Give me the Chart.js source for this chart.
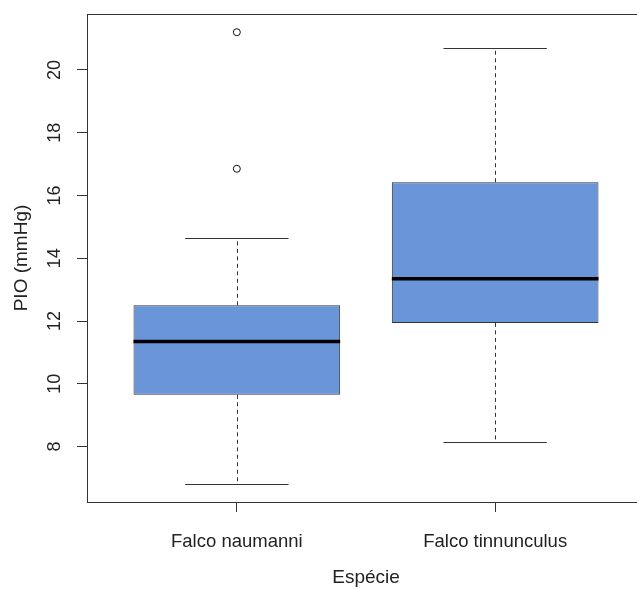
<!DOCTYPE html>
<html lang="pt">
<head>
<meta charset="utf-8">
<title>PIO por espécie</title>
<script src="https://cdn.jsdelivr.net/npm/chart.js@4/dist/chart.umd.min.js"></script>
<style>
  html, body { margin: 0; padding: 0; background: #fff; overflow: hidden; }
  #wrap { position: absolute; left: 0; top: 0; width: 660px; height: 590px; }
</style>
</head>
<body>
<div id="wrap"><canvas id="pioEspecie"></canvas></div>
<script>
window.onload = init;

const especies = ["Falco naumanni", "Falco tinnunculus"];
const bigodeInf = [6.80, 8.16];
const quartil1 = [9.65, 11.94];
const mediana = [11.35, 13.35];
const quartil3 = [12.50, 16.42];
const bigodeSup = [14.65, 20.69];
const outliers = [[16.85, 21.20], []];
const yTicks = [8, 10, 12, 14, 16, 18, 20];

const fonte = "'Liberation Sans', Arial, sans-serif";
const corTexto = "#222";
const corLinha = "#333";

function init(e) {
  generateChartPio();
}

// sem folga extra para rótulos: a área do gráfico fica onde o layout manda
function semFolga(scale) {
  scale.paddingTop = 0;
  scale.paddingBottom = 0;
  scale.paddingLeft = 0;
  scale.paddingRight = 0;
}

// mediana e bigodes desenhados sobre as escalas do gráfico
const boxPlugin = {
  id: "boxExtras",
  afterDatasetsDraw(chart) {
    const ctx = chart.ctx;
    const x = chart.scales.x;
    const y = chart.scales.y;
    ctx.save();
    especies.forEach((nome, i) => {
      const cx = x.getPixelForValue(i + 1);
      const meiaCaixa = x.getPixelForValue(i + 1.4) - cx;
      const meiaHaste = x.getPixelForValue(i + 1.2) - cx;
      const px = Math.round(cx) + 0.5;

      ctx.strokeStyle = corLinha;
      ctx.lineWidth = 1;
      ctx.setLineDash([4, 3.5]);
      ctx.beginPath();
      ctx.moveTo(px, y.getPixelForValue(quartil3[i]));
      ctx.lineTo(px, y.getPixelForValue(bigodeSup[i]));
      ctx.moveTo(px, y.getPixelForValue(quartil1[i]));
      ctx.lineTo(px, y.getPixelForValue(bigodeInf[i]));
      ctx.stroke();

      ctx.setLineDash([]);
      ctx.beginPath();
      [bigodeSup[i], bigodeInf[i]].forEach((v) => {
        const py = Math.round(y.getPixelForValue(v)) + 0.5;
        ctx.moveTo(cx - meiaHaste, py);
        ctx.lineTo(cx + meiaHaste, py);
      });
      ctx.stroke();

      ctx.strokeStyle = "#000";
      ctx.lineWidth = 3.5;
      ctx.beginPath();
      const pm = y.getPixelForValue(mediana[i]);
      ctx.moveTo(cx - meiaCaixa, pm);
      ctx.lineTo(cx + meiaCaixa, pm);
      ctx.stroke();
    });
    ctx.restore();
  },
  afterDraw(chart) {
    const a = chart.chartArea;
    const ctx = chart.ctx;
    ctx.save();
    ctx.strokeStyle = corLinha;
    ctx.lineWidth = 1;
    ctx.strokeRect(Math.round(a.left) + 0.5, Math.round(a.top) + 0.5,
      Math.round(a.right - a.left), Math.round(a.bottom - a.top));
    ctx.restore();
  },
};

function generateChartPio() {
  const caixas = especies.map((nome, i) => ({ x: i + 1, y: [quartil1[i], quartil3[i]] }));
  const pontos = [];
  outliers.forEach((lista, i) => lista.forEach((v) => pontos.push({ x: i + 1, y: v })));

  const datasets = [
    {
      type: "scatter",
      label: "outliers",
      data: pontos,
      pointRadius: 3.5,
      pointBackgroundColor: "#fff",
      pointBorderColor: "#111",
      pointBorderWidth: 1,
    },
    {
      type: "bar",
      label: "PIO",
      data: caixas,
      backgroundColor: "#6a96d9",
      borderColor: corLinha,
      borderWidth: 1,
      borderSkipped: false,
      categoryPercentage: 1,
      barPercentage: 0.8,
    },
  ];

  const config = {
    responsive: true,
    maintainAspectRatio: false,
    animation: false,
    layout: { padding: { left: 0, right: 15, top: 14, bottom: 0 } },
    scales: {
      x: {
        type: "linear",
        min: 0.42,
        max: 2.58,
        offset: false,
        afterFit: (scale) => { scale.height = 88; semFolga(scale); },
        afterBuildTicks: (scale) => { scale.ticks = especies.map((n, i) => ({ value: i + 1 })); },
        grid: { display: true, drawOnChartArea: false, offset: false, tickLength: 10, color: corLinha },
        border: { display: false },
        ticks: {
          autoSkip: false,
          maxRotation: 0,
          padding: 19,
          color: corTexto,
          font: { family: fonte, size: 18.5 },
          callback: (value) => especies[value - 1] || "",
        },
        title: {
          display: true,
          text: "Espécie",
          color: corTexto,
          font: { family: fonte, size: 19 },
          padding: { top: 0, bottom: 1 },
        },
      },
      y: {
        type: "linear",
        min: 6.235,
        max: 21.78,
        afterFit: (scale) => { scale.width = 87; semFolga(scale); },
        afterBuildTicks: (scale) => { scale.ticks = yTicks.map((v) => ({ value: v })); },
        grid: { display: true, drawOnChartArea: false, tickLength: 10, color: corLinha },
        border: { display: false },
        ticks: {
          minRotation: 90,
          maxRotation: 90,
          crossAlign: "center",
          padding: 11.5,
          color: corTexto,
          font: { family: fonte, size: 18 },
        },
        title: {
          display: true,
          text: "PIO (mmHg)",
          color: corTexto,
          font: { family: fonte, size: 19 },
          padding: { top: 10.6, bottom: 0 },
        },
      },
    },
    plugins: {
      legend: { display: false },
      tooltip: { enabled: false },
    },
  };

  const ctx = document.getElementById("pioEspecie").getContext("2d");
  new Chart(ctx, {
    type: "bar",
    data: { datasets },
    options: config,
    plugins: [boxPlugin],
  });
}
</script>
</body>
</html>
